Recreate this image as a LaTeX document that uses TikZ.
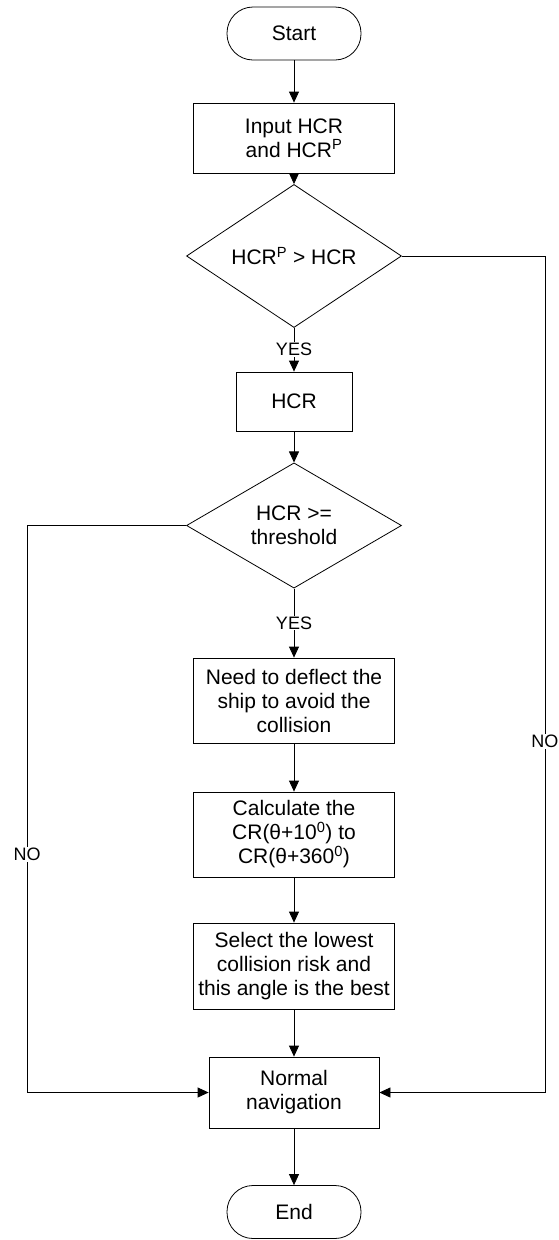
\documentclass[tikz,border=0pt]{standalone}
\usepackage{fontspec}
\setmainfont{Liberation Sans}
\usetikzlibrary{shapes.geometric,arrows.meta}

\begin{document}
\begin{tikzpicture}[x=1pt, y=-1pt,
  every node/.style={font=\fontsize{21}{24}\selectfont, align=center},
  term/.style={draw, line width=0.8pt, rectangle, rounded corners=26pt, minimum width=134pt, minimum height=53pt},
  proc/.style={draw, line width=0.8pt, rectangle, minimum width=201pt, minimum height=85pt, inner sep=2pt},
  decide/.style={draw, line width=0.8pt, diamond, minimum width=215pt, minimum height=98pt, inner sep=0pt},
  lbl/.style={fill=white, inner sep=1pt, font=\fontsize{18}{20}\selectfont},
  flow/.style={-{Triangle[length=11pt,width=10pt]}, line width=0.8pt}]
\useasboundingbox (0,0) rectangle (558,1240);

\node[term] (start) at (294,33.5) {Start};
\node[proc, minimum height=70pt] (input) at (294,138) {Input HCR\\and HCR\textsuperscript{P}};
\node[decide] (cmp) at (294,256) {HCR\textsuperscript{P} > HCR};
\node[proc, minimum width=116pt, minimum height=59pt] (hcr) at (294,401.5) {HCR};
\node[decide] (thr) at (294,525.5) {HCR >=\\threshold};
\node[proc] (deflect) at (294,700.5) {Need to deflect the\\ship to avoid the\\collision};
\node[proc] (calc) at (294,834.5) {Calculate the\\CR(θ+10\textsuperscript{0}) to\\CR(θ+360\textsuperscript{0})};
\node[proc, minimum height=86pt] (select) at (294,966) {Select the lowest\\collision risk and\\this angle is the best};
\node[proc, minimum width=170pt, minimum height=71pt] (nav) at (294,1092.5) {Normal\\navigation};
\node[term] (end) at (294,1212) {End};

\draw[flow] (start) -- (input);
\draw[flow] (input) -- (cmp);
\draw[flow] (cmp) -- node[lbl]{YES} (hcr);
\draw[flow] (hcr) -- (thr);
\draw[flow] (thr) -- node[lbl]{YES} (deflect);
\draw[flow] (deflect) -- (calc);
\draw[flow] (calc) -- (select);
\draw[flow] (select) -- (nav);
\draw[flow] (nav) -- (end);
\draw[flow] (thr.west) -- ++(-159,0) |- node[lbl, pos=0.29]{NO} (nav.west);
\draw[flow] (cmp.east) -- ++(143,0) |- node[lbl, pos=0.29]{NO} (nav.east);
\end{tikzpicture}
\end{document}
